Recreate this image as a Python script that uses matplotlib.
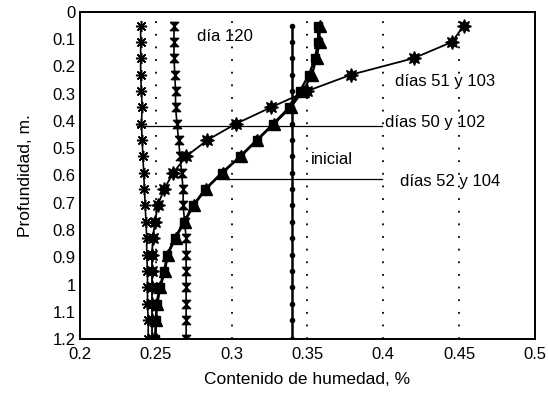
import numpy as np
import matplotlib
matplotlib.use('Agg')
import matplotlib.pyplot as plt

plt.rcParams['font.family'] = ['Liberation Sans', 'DejaVu Sans']

# profundidad de cada lectura, m
depth = [0.05, 0.11, 0.17, 0.23, 0.29, 0.35, 0.41, 0.47, 0.53, 0.59,
         0.65, 0.71, 0.77, 0.83, 0.89, 0.95, 1.01, 1.07, 1.13, 1.2]

# contenido de humedad de cada serie
dias_50_102 = [0.240, 0.240, 0.240, 0.240, 0.2405, 0.241, 0.2405, 0.241, 0.2415, 0.242,
               0.2425, 0.243, 0.2435, 0.244, 0.244, 0.2445, 0.2445, 0.2445, 0.245, 0.245]
dia_120 = [0.262, 0.262, 0.262, 0.2625, 0.263, 0.263, 0.264, 0.265, 0.266, 0.267,
           0.268, 0.268, 0.269, 0.270, 0.270, 0.270, 0.270, 0.270, 0.270, 0.270]
inicial = [0.340, 0.340, 0.340, 0.340, 0.340, 0.340, 0.340, 0.340, 0.340, 0.340,
           0.340, 0.340, 0.340, 0.340, 0.340, 0.340, 0.340, 0.340, 0.340, 0.340]
dias_51_103 = [0.453, 0.4455, 0.420, 0.379, 0.350, 0.326, 0.303, 0.284, 0.270, 0.2615,
               0.2555, 0.2512, 0.2495, 0.248, 0.2475, 0.2475, 0.2475, 0.2475, 0.2475, 0.2475]
dia_52 = [0.357, 0.357, 0.355, 0.351, 0.345, 0.338, 0.3275, 0.3165, 0.3055, 0.2935,
          0.2825, 0.2745, 0.2685, 0.2625, 0.2575, 0.2555, 0.2525, 0.2505, 0.250, 0.2495]
dia_104 = [0.358, 0.358, 0.356, 0.353, 0.347, 0.339, 0.328, 0.317, 0.306, 0.294,
           0.283, 0.275, 0.269, 0.263, 0.258, 0.256, 0.253, 0.251, 0.250, 0.250]

xticks = [0.2, 0.25, 0.3, 0.35, 0.4, 0.45, 0.5]
yticks = [0, 0.1, 0.2, 0.3, 0.4, 0.5, 0.6, 0.7, 0.8, 0.9, 1, 1.1, 1.2]

# reloj de arena
hourglass = [(-1, 1), (1, 1), (-1, -1), (1, -1), (-1, 1)]

fig = plt.figure(figsize=(5.48, 3.97), dpi=100)
ax = fig.add_axes([0.146, 0.146, 0.83, 0.824])

for x in xticks[1:-1]:
    ax.axvline(x, color='black', lw=1.3, ls=(0, (1, 6)), zorder=1)

ax.plot(dias_50_102, depth, color='black', lw=1.2, marker=(8, 2, 0), ms=8, mew=1.1, zorder=3)
ax.plot(dia_120, depth, color='black', lw=1.2, marker=hourglass, ms=6, zorder=3)
ax.plot(inicial, depth, color='black', lw=1.8, marker='o', ms=3, zorder=3)
ax.plot(dias_51_103, depth, color='black', lw=1.3, marker=(8, 1, 0), ms=10, zorder=3)
ax.plot(dia_52, depth, color='black', lw=1.6, marker='s', ms=6, zorder=3)
ax.plot(dia_104, depth, color='black', lw=1.6, marker='^', ms=8, zorder=3)

# lineas guia de las etiquetas
ax.plot([0.2376, 0.399], [0.418, 0.418], color='black', lw=0.9, zorder=2)
ax.plot([0.297, 0.399], [0.613, 0.613], color='black', lw=0.9, zorder=2)

fs = 12
ax.text(0.277, 0.09, 'día 120', fontsize=fs, va='center')
ax.text(0.408, 0.257, 'días 51 y 103', fontsize=fs, va='center')
ax.text(0.401, 0.407, 'días 50 y 102', fontsize=fs, va='center')
ax.text(0.352, 0.542, 'inicial', fontsize=fs, va='center')
ax.text(0.411, 0.623, 'días 52 y 104', fontsize=fs, va='center')

ax.set_xlim(0.2, 0.5)
ax.set_ylim(1.2, 0)
ax.set_xticks(xticks)
ax.set_xticklabels([f'{t:g}' for t in xticks])
ax.set_yticks(yticks)
ax.set_yticklabels([f'{t:g}' for t in yticks])
ax.tick_params(length=0, labelsize=fs)
ax.tick_params(axis='x', pad=6)
ax.tick_params(axis='y', pad=3)
for s in ax.spines.values():
    s.set_linewidth(1.4)

ax.set_xlabel('Contenido de humedad, %', fontsize=12.5, labelpad=7)
ax.set_ylabel('Profundidad, m.', fontsize=12.5, labelpad=14)

fig.savefig('out.png', dpi=100)
